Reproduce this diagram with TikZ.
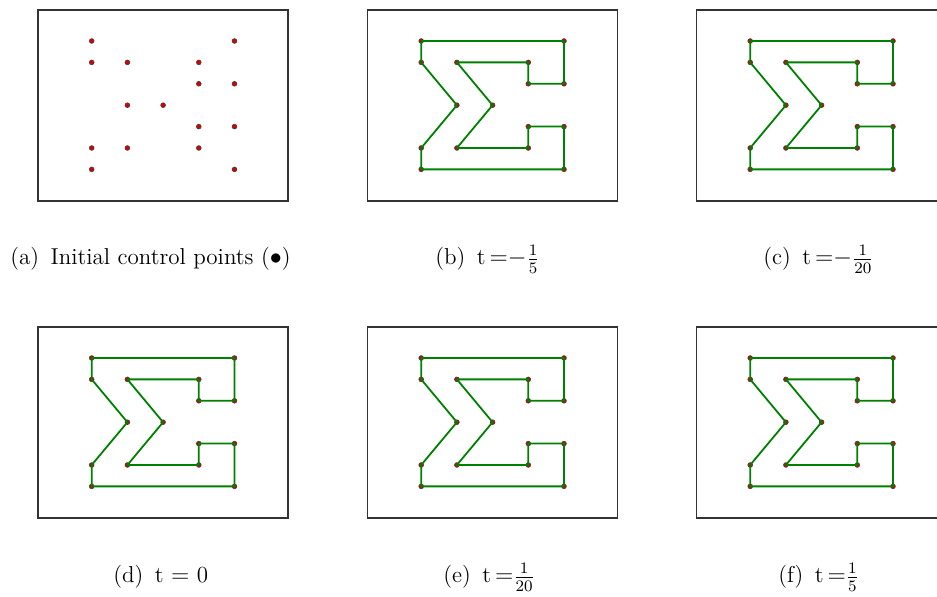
\documentclass[tikz,border=0pt]{standalone}
\usetikzlibrary{positioning}

% one panel: frame, the sixteen control points and their dots
\newcommand{\ctrlpanel}[3]{% #1 name, #2/#3 lower left corner of the frame
  \draw[frame] (#2,#3) rectangle ++(250,191);
  \begin{scope}[shift={(#2+53.7,#3+31.6)}]
  \begin{scope}[x=17.85pt,y=10.7pt]
    \foreach \k/\i/\j in {1/0/6, 2/4/6, 3/4/4, 4/3/4, 5/3/5, 6/1/5, 7/2/3, 8/1/1,
                          9/3/1, 10/3/2, 11/4/2, 12/4/0, 13/0/0, 14/0/1, 15/1/3, 16/0/5}
      \coordinate (#1-\k) at (\i,\j);
  \end{scope}
  \end{scope}
  \foreach \k in {1,...,16}
    \node[ctrl] (#1-dot\k) at (#1-\k) {};
}
% the sigma through the points of a panel
\newcommand{\sigmaline}[1]{%
  \draw[sig] (#1-1) \foreach \k in {2,...,16} {-- (#1-\k)} -- cycle;
}

\begin{document}
\begin{tikzpicture}[x=0.5pt, y=0.5pt,
  frame/.style={draw=black!80, line width=0.6pt},
  ctrl/.style={circle, fill=red!85!black, draw=black!75, line width=0.3pt,
               inner sep=0pt, minimum size=2.4pt},
  sig/.style={draw=green!50!black, line width=0.9pt, line join=round},
  subcap/.style={anchor=base west, inner sep=0pt, font=\fontsize{11.5}{13}\selectfont},
]
\useasboundingbox (0,0) rectangle (937,597);

\ctrlpanel{a}{38}{396}
\ctrlpanel{b}{367.5}{396}  \sigmaline{b}
\ctrlpanel{c}{696.5}{396}  \sigmaline{c}
\ctrlpanel{d}{38}{79}      \sigmaline{d}
\ctrlpanel{e}{367.5}{79}   \sigmaline{e}
\ctrlpanel{f}{696.5}{79}   \sigmaline{f}

\node[subcap] (capa) at (10,332)  {(a)\enspace Initial control points ($\bullet$)};
\node[subcap] (capb) at (435,332) {(b)\enspace t\,$\mathord{=}\mathord{-}\frac{1}{5}$};
\node[subcap] (capc) at (763,332) {(c)\enspace t\,$\mathord{=}\mathord{-}\frac{1}{20}$};
\node[subcap] (capd) at (113,14)  {(d)\enspace t $=$ 0};
\node[subcap] (cape) at (443,14)  {(e)\enspace t\,$\mathord{=}\frac{1}{20}$};
\node[subcap] (capf) at (778,14)  {(f)\enspace t\,$\mathord{=}\frac{1}{5}$};
\end{tikzpicture}
\end{document}
